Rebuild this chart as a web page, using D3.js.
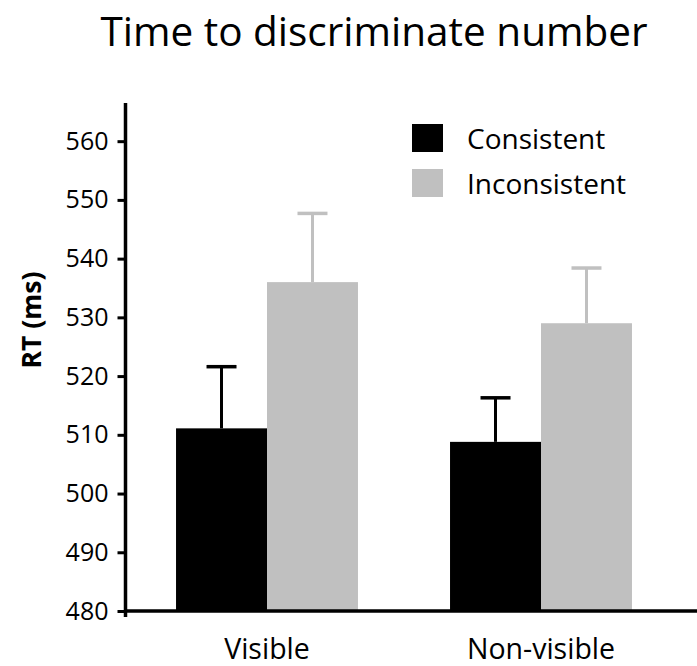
<!DOCTYPE html>
<html>
<head>
<meta charset="utf-8">
<script src="https://cdn.jsdelivr.net/npm/d3@7"></script>
<style>
  html, body { margin: 0; padding: 0; background: #fff; }
  svg { display: block; font-family: "Open Sans", "Noto Sans", sans-serif; }
</style>
</head>
<body>
<svg id="chart" width="697" height="666"></svg>
<script>
// ---- data ----
const categories = ["Visible", "Non-visible"];
const seriesNames = ["Consistent", "Inconsistent"];
const consistentMeans = [511.1, 508.8];
const consistentErrors = [10.5, 7.5];
const inconsistentMeans = [536.0, 529.0];
const inconsistentErrors = [11.7, 9.4];
const yTicks = [480, 490, 500, 510, 520, 530, 540, 550, 560];
const titleText = "Time to discriminate number";
const yLabelText = "RT (ms)";

// ---- layout ----
const colors = { Consistent: "#000000", Inconsistent: "#c0c0c0" };
const svg = d3.select("#chart");

const rows = categories.map((c, i) => ({
  category: c,
  values: [
    { series: "Consistent", mean: consistentMeans[i], err: consistentErrors[i] },
    { series: "Inconsistent", mean: inconsistentMeans[i], err: inconsistentErrors[i] }
  ]
}));

const y = d3.scaleLinear().domain([480, 566.5]).range([611, 103]);
const x0 = d3.scaleBand().domain(categories).range([130, 678])
  .paddingInner(0.336).paddingOuter(0.168);
const x1 = d3.scaleBand().domain(seriesNames).range([0, x0.bandwidth()]).padding(0);

// bars
const g = svg.append("g");
const groups = g.selectAll("g.grp").data(rows).join("g")
  .attr("class", "grp")
  .attr("transform", d => `translate(${x0(d.category)},0)`);

groups.selectAll("rect").data(d => d.values).join("rect")
  .attr("x", d => x1(d.series))
  .attr("width", x1.bandwidth())
  .attr("y", d => y(d.mean))
  .attr("height", d => y(480) - y(d.mean))
  .attr("fill", d => colors[d.series]);

// error bars (upper only)
groups.selectAll("line.whisker").data(d => d.values).join("line")
  .attr("class", "whisker")
  .attr("x1", d => x1(d.series) + x1.bandwidth() / 2)
  .attr("x2", d => x1(d.series) + x1.bandwidth() / 2)
  .attr("y1", d => y(d.mean))
  .attr("y2", d => y(d.mean + d.err))
  .attr("stroke", d => colors[d.series])
  .attr("stroke-width", 3);

groups.selectAll("line.cap").data(d => d.values).join("line")
  .attr("class", "cap")
  .attr("x1", d => x1(d.series) + x1.bandwidth() / 2 - 15)
  .attr("x2", d => x1(d.series) + x1.bandwidth() / 2 + 15)
  .attr("y1", d => y(d.mean + d.err))
  .attr("y2", d => y(d.mean + d.err))
  .attr("stroke", d => colors[d.series])
  .attr("stroke-width", 3.5);

// y axis
const yAxis = d3.axisLeft(y).tickValues(yTicks).tickSize(8).tickPadding(9).tickSizeOuter(0);
const yg = svg.append("g").attr("transform", "translate(125.5,0)").call(yAxis);
yg.select(".domain").remove();
yg.selectAll(".tick line").attr("stroke", "#000").attr("stroke-width", 3);
yg.selectAll(".tick text").attr("font-size", 25).attr("fill", "#000")
  .attr("font-family", "'Open Sans', sans-serif");
yg.append("line")
  .attr("x1", 0).attr("x2", 0)
  .attr("y1", y.range()[1]).attr("y2", y(480) + 6)
  .attr("stroke", "#000").attr("stroke-width", 3.5);

// x axis line
svg.append("line")
  .attr("x1", 124).attr("x2", 697)
  .attr("y1", y(480)).attr("y2", y(480))
  .attr("stroke", "#000").attr("stroke-width", 3.5);

// x labels
svg.selectAll("text.xlab").data(categories).join("text")
  .attr("class", "xlab")
  .attr("x", d => x0(d) + x0.bandwidth() / 2)
  .attr("y", 659)
  .attr("text-anchor", "middle")
  .attr("font-size", 28.5)
  .attr("fill", "#000")
  .text(d => d);

// y label
svg.append("text")
  .attr("transform", "translate(41,320) rotate(-90)")
  .attr("text-anchor", "middle")
  .attr("font-size", 26.5)
  .attr("font-weight", "bold")
  .attr("fill", "#000")
  .text(yLabelText);

// title
svg.append("text")
  .attr("x", 374)
  .attr("y", 46)
  .attr("text-anchor", "middle")
  .attr("font-size", 40.5)
  .attr("fill", "#000")
  .text(titleText);

// legend
const legend = svg.append("g").attr("transform", "translate(412,124)");
const li = legend.selectAll("g").data(seriesNames).join("g")
  .attr("transform", (d, i) => `translate(0,${i * 45})`);
li.append("rect").attr("width", 31).attr("height", 28).attr("fill", d => colors[d]);
li.append("text").attr("x", 55).attr("y", 25).attr("font-size", 28).attr("fill", "#000").text(d => d);
</script>
</body>
</html>
